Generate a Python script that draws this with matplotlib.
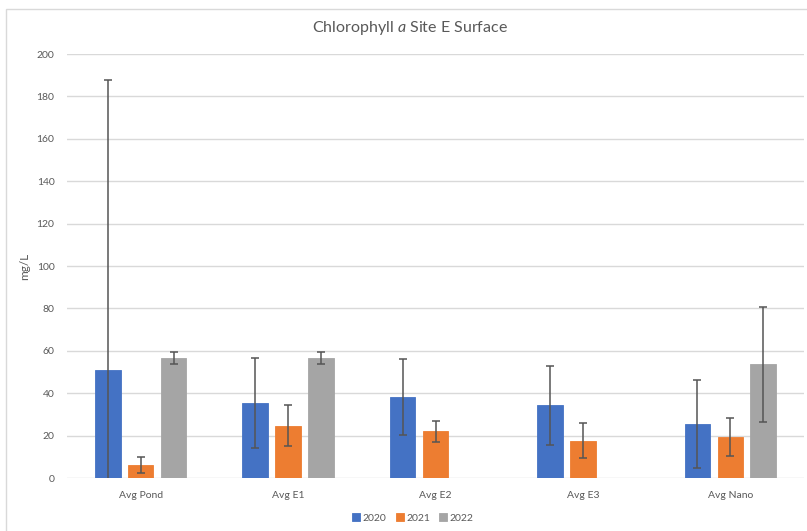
import matplotlib
matplotlib.use("Agg")
import matplotlib.pyplot as plt
import numpy as np
from matplotlib.patches import Rectangle

categories = ["Avg Pond", "Avg E1", "Avg E2", "Avg E3", "Avg Nano"]
series_names = ["2020", "2021", "2022"]
vals_2020 = [50.8, 35.2, 38.1, 34.2, 25.5]
vals_2021 = [6.3, 24.6, 22.0, 17.6, 19.2]
vals_2022 = [56.4, 56.4, np.nan, np.nan, 53.6]
err_2020 = [137.0, 21.2, 18.0, 18.8, 20.6]
err_2021 = [3.8, 9.6, 4.8, 8.4, 9.0]
err_2022 = [2.8, 2.8, np.nan, np.nan, 27.0]
yticks = [0, 20, 40, 60, 80, 100, 120, 140, 160, 180, 200]

colors = ["#4472C4", "#ED7D31", "#A5A5A5"]
txt = "#595959"
grid = "#D9D9D9"

plt.rcParams["font.family"] = ["Lato", "DejaVu Sans"]
plt.rcParams["mathtext.fontset"] = "custom"
plt.rcParams["mathtext.it"] = "Lato:italic"
plt.rcParams["mathtext.rm"] = "Lato"

fig = plt.figure(figsize=(8.07, 5.31), dpi=100)
W, H = 807, 531
ax = fig.add_axes([67 / W, 1 - 478 / H, (804 - 67) / W, (478 - 54) / H])

# outer chart border
fig.patches.append(Rectangle((5.5 / W, -0.1), 1.2, 1 - 8.5 / H + 0.1,
                             transform=fig.transFigure, fill=False,
                             edgecolor=grid, linewidth=1.0))

x = np.arange(len(categories))
offset = 0.223
width = 0.173
allvals = [vals_2020, vals_2021, vals_2022]
allerr = [err_2020, err_2021, err_2022]
for i, (name, v, e, c) in enumerate(zip(series_names, allvals, allerr, colors)):
    xi = x + (i - 1) * offset
    ax.bar(xi, v, width=width, color=c, label=name, zorder=2,
           edgecolor=c, linewidth=0.6)
    ax.errorbar(xi, v, yerr=e, fmt="none", ecolor="#555555", elinewidth=1.1,
                capsize=3.2, capthick=1.1, zorder=3)

ax.set_xlim(-0.5, len(categories) - 0.5)
ax.set_ylim(0, 200)
ax.set_yticks(yticks)
ax.set_xticks(x)
ax.set_xticklabels(categories)
ax.yaxis.grid(True, color=grid, linewidth=1.0, zorder=0)
ax.set_axisbelow(True)
for s in ax.spines.values():
    s.set_visible(False)
ax.tick_params(axis="both", length=0, colors=txt, labelsize=7.5)
ax.tick_params(axis="y", pad=9)
ax.tick_params(axis="x", pad=9)

ax.set_ylabel("mg/L", color=txt, fontsize=8.5, labelpad=5)

fig.text(410 / W, 1 - 28 / H, r"Chlorophyll $\mathit{a}$ Site E Surface",
         ha="center", va="center", color=txt, fontsize=11.5)

leg = fig.legend(loc="center", bbox_to_anchor=(413 / W, 1 - 518 / H),
                 ncol=3, frameon=False, fontsize=7.5, handlelength=0.75,
                 handleheight=0.75, handletextpad=0.25, columnspacing=0.9,
                 borderaxespad=0)
for t in leg.get_texts():
    t.set_color(txt)

fig.savefig("out.png", dpi=100, facecolor="white")
